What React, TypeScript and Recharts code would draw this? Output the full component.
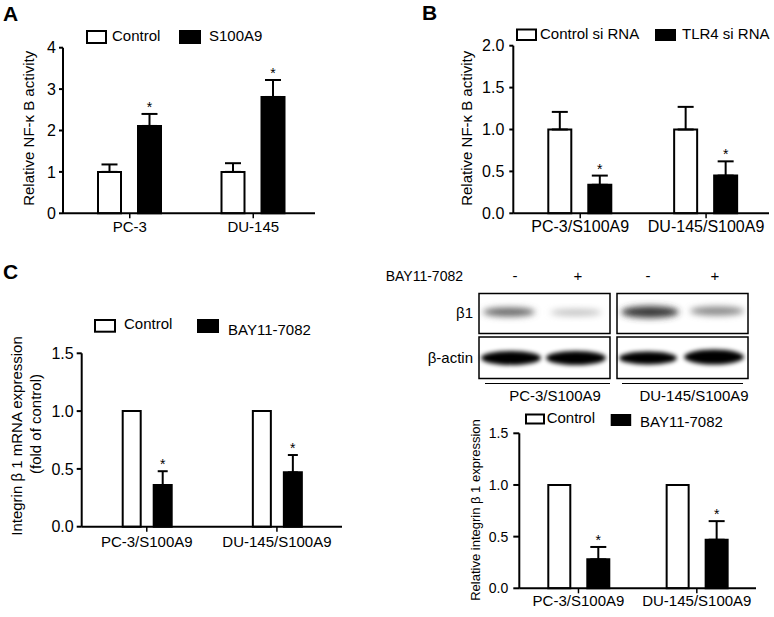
import React from 'react';
import { BarChart, Bar, XAxis, YAxis, ErrorBar, Legend, LabelList } from 'recharts';

const FONT = '"Liberation Sans", Arial, Helvetica, sans-serif';

// ---- Panel A ----
const catsA = ['PC-3', 'DU-145'];
const controlA = [1.0, 1.0];
const controlErrA = [0.18, 0.21];
const s100a9A = [2.11, 2.81];
const s100a9ErrA = [0.29, 0.41];
const ticksA = [0, 1, 2, 3, 4];

// ---- Panel B ----
const catsB = ['PC-3/S100A9', 'DU-145/S100A9'];
const controlSiB = [1.0, 1.0];
const controlSiErrB = [0.21, 0.27];
const tlr4SiB = [0.34, 0.45];
const tlr4SiErrB = [0.11, 0.17];
const ticksB = [0, 0.5, 1.0, 1.5, 2.0];

// ---- Panel C (mRNA) ----
const catsC = ['PC-3/S100A9', 'DU-145/S100A9'];
const controlC = [1.0, 1.0];
const bayC = [0.36, 0.47];
const bayErrC = [0.12, 0.15];
const ticksC = [0, 0.5, 1.0, 1.5];

// ---- Panel C (western quantification) ----
const catsD = ['PC-3/S100A9', 'DU-145/S100A9'];
const controlD = [1.0, 1.0];
const bayD = [0.28, 0.47];
const bayErrD = [0.12, 0.18];
const ticksD = [0, 0.5, 1.0, 1.5];

const dataA = catsA.map((name, i) => ({
  name, ctrl: controlA[i], ctrlErr: [0, controlErrA[i]], trt: s100a9A[i], trtErr: [0, s100a9ErrA[i]],
}));
const dataB = catsB.map((name, i) => ({
  name, ctrl: controlSiB[i], ctrlErr: [0, controlSiErrB[i]], trt: tlr4SiB[i], trtErr: [0, tlr4SiErrB[i]],
}));
const dataC = catsC.map((name, i) => ({
  name, ctrl: controlC[i], trt: bayC[i], trtErr: [0, bayErrC[i]],
}));
const dataD = catsD.map((name, i) => ({
  name, ctrl: controlD[i], trt: bayD[i], trtErr: [0, bayErrD[i]],
}));

type LegendItem = { label: string; fill: string; box: number[]; text: number[] };

const makeLegend = (items: LegendItem[], ox: number, oy: number, w: number, h: number, font: number) => () => (
  <svg width={w} height={h} style={{ display: 'block', overflow: 'visible' }}>
    {items.map((it) => (
      <g key={it.label}>
        <rect x={it.box[0] - ox} y={it.box[1] - oy} width={it.box[2]} height={it.box[3]} fill={it.fill} stroke="#000" strokeWidth={2} />
        <text x={it.text[0] - ox} y={it.text[1] - oy} fontSize={font} fontFamily={FONT} fill="#000">{it.label}</text>
      </g>
    ))}
  </svg>
);

const starContent = (errs: number[], font: number) => (p: any) => {
  const { x, y, width, height, value, index } = p;
  if (value == null || !height) return null;
  const per = Number(height) / Number(value);
  const capY = Number(y) - errs[index] * per;
  return (
    <text x={Number(x) + Number(width) / 2} y={capY - 2} textAnchor="middle" fontSize={font} fontFamily={FONT} fill="#000">*</text>
  );
};

interface PanelProps {
  left: number; top: number; width: number; height: number;
  margin: { top: number; right: number; bottom: number; left: number };
  yAxisWidth: number; xAxisHeight: number;
  data: any[]; ticks: number[]; decimals: number;
  yTickFont: number; xTickFont: number;
  yTickSize: number; yTickMargin: number; xTickMargin: number;
  padLeft: number;
  barSize: number; barGap: number; capW: number;
  ctrlErr: boolean; trtErrs: number[];
  legendItems: LegendItem[]; legendBox: number[]; legendFont: number;
  ctrlName: string; trtName: string;
}

const Panel = (p: PanelProps) => {
  const axisStyle = { stroke: '#000', strokeWidth: 2 };
  const [lx, ly, lw, lh] = p.legendBox;
  return (
    <div style={{ position: 'absolute', left: p.left, top: p.top, width: p.width, height: p.height }}>
      <BarChart
        width={p.width}
        height={p.height}
        data={p.data}
        margin={p.margin}
        barSize={p.barSize}
        barGap={p.barGap}
      >
        <XAxis
          dataKey="name"
          interval={0}
          height={p.xAxisHeight}
          padding={{ left: p.padLeft, right: 0 }}
          axisLine={axisStyle}
          tickLine={{ stroke: '#000', strokeWidth: 1.5 }}
          tickSize={5}
          tickMargin={p.xTickMargin}
          tick={{ fill: '#000', fontSize: p.xTickFont, fontFamily: FONT }}
        />
        <YAxis
          width={p.yAxisWidth}
          domain={[p.ticks[0], p.ticks[p.ticks.length - 1]]}
          ticks={p.ticks}
          interval={0}
          axisLine={axisStyle}
          tickLine={{ stroke: '#000', strokeWidth: 2 }}
          tickSize={p.yTickSize}
          tickMargin={p.yTickMargin}
          tickFormatter={(v: number) => v.toFixed(p.decimals)}
          tick={{ fill: '#000', fontSize: p.yTickFont, fontFamily: FONT }}
        />
        <Legend
          layout="vertical"
          align="center"
          verticalAlign="middle"
          wrapperStyle={{ left: lx - p.left, top: ly - p.top, width: lw, height: lh }}
          content={makeLegend(p.legendItems, lx, ly, lw, lh, p.legendFont)}
        />
        <Bar dataKey="ctrl" name={p.ctrlName} fill="#fff" stroke="#000" strokeWidth={2} isAnimationActive={false}>
          {p.ctrlErr && (
            <ErrorBar dataKey="ctrlErr" width={p.capW} stroke="#000" strokeWidth={2} direction="y" />
          )}
        </Bar>
        <Bar dataKey="trt" name={p.trtName} fill="#000" stroke="#000" strokeWidth={2} isAnimationActive={false}>
          <ErrorBar dataKey="trtErr" width={p.capW} stroke="#000" strokeWidth={2} direction="y" />
          <LabelList dataKey="trt" content={starContent(p.trtErrs, 14)} />
        </Bar>
      </BarChart>
    </div>
  );
};

const Blot = () => (
  <g>
    <defs>
      <filter id="blur2" x="-20%" y="-80%" width="140%" height="260%">
        <feGaussianBlur stdDeviation="2.2" />
      </filter>
      <filter id="blur3" x="-20%" y="-80%" width="140%" height="260%">
        <feGaussianBlur stdDeviation="3" />
      </filter>
    </defs>
    <text x={463} y={281} fontSize={14} fontFamily={FONT} textAnchor="end" fill="#000">BAY11-7082</text>
    <text x={515} y={281} fontSize={15} fontFamily={FONT} textAnchor="middle" fill="#000">-</text>
    <text x={578} y={281} fontSize={15} fontFamily={FONT} textAnchor="middle" fill="#000">+</text>
    <text x={648} y={281} fontSize={15} fontFamily={FONT} textAnchor="middle" fill="#000">-</text>
    <text x={715} y={281} fontSize={15} fontFamily={FONT} textAnchor="middle" fill="#000">+</text>

    <rect x={479} y={293.5} width={131} height={40} fill="#fff" stroke="#000" strokeWidth={1.5} />
    <rect x={617} y={293.5} width={131} height={40} fill="#fff" stroke="#000" strokeWidth={1.5} />
    <rect x={479} y={337} width={131} height={41.5} fill="#fff" stroke="#000" strokeWidth={1.5} />
    <rect x={617} y={337} width={131} height={41.5} fill="#fff" stroke="#000" strokeWidth={1.5} />

    <ellipse cx={509} cy={312} rx={26} ry={4.5} fill="#6a6a6a" filter="url(#blur3)" />
    <ellipse cx={576} cy={312.5} rx={26} ry={3.5} fill="#c4c4c4" filter="url(#blur3)" />
    <ellipse cx={650} cy={312} rx={29} ry={6} fill="#3a3a3a" filter="url(#blur3)" />
    <ellipse cx={717} cy={311} rx={27} ry={4.5} fill="#8a8a8a" filter="url(#blur3)" />

    <ellipse cx={511} cy={358} rx={30} ry={7} fill="#000" filter="url(#blur2)" />
    <ellipse cx={576} cy={358} rx={30} ry={7} fill="#000" filter="url(#blur2)" />
    <ellipse cx={648} cy={358} rx={29} ry={6.5} fill="#000" filter="url(#blur2)" />
    <ellipse cx={714} cy={357} rx={30} ry={7.5} fill="#000" filter="url(#blur2)" />

    <text x={473} y={318} fontSize={15} fontFamily={FONT} textAnchor="end" fill="#000">β1</text>
    <text x={473} y={363} fontSize={15} fontFamily={FONT} textAnchor="end" fill="#000">β-actin</text>

    <line x1={485} y1={383.5} x2={610} y2={383.5} stroke="#000" strokeWidth={1} />
    <line x1={622} y1={383.5} x2={743} y2={383.5} stroke="#000" strokeWidth={1} />
    <text x={555} y={401} fontSize={15} fontFamily={FONT} textAnchor="middle" fill="#000">PC-3/S100A9</text>
    <text x={694} y={401} fontSize={15} fontFamily={FONT} textAnchor="middle" fill="#000">DU-145/S100A9</text>
  </g>
);

const VText = ({ cx, cy, size, children }: { cx: number; cy: number; size: number; children: React.ReactNode }) => (
  <text
    transform={`translate(${cx},${cy}) rotate(-90)`}
    x={0}
    y={0}
    dy="0.35em"
    textAnchor="middle"
    fontSize={size}
    fontFamily={FONT}
    fill="#000"
  >
    {children}
  </text>
);

export default function App() {
  return (
    <div style={{ position: 'absolute', left: 0, top: 0, width: 774, height: 617, background: '#fff', overflow: 'hidden' }}>
      <Panel
        left={0} top={0} width={330} height={250}
        margin={{ top: 47.7, right: 15, bottom: 6.7, left: 0 }}
        yAxisWidth={63} xAxisHeight={30}
        data={dataA} ticks={ticksA} decimals={0}
        yTickFont={16} xTickFont={15}
        yTickSize={4} yTickMargin={3} xTickMargin={3}
        padLeft={5}
        barSize={23} barGap={17} capW={8}
        ctrlErr={true} trtErrs={s100a9ErrA}
        ctrlName="Control" trtName="S100A9"
        legendBox={[80, 25, 200, 22]} legendFont={15}
        legendItems={[
          { label: 'Control', fill: '#fff', box: [87, 31, 19, 12], text: [112, 40.7] },
          { label: 'S100A9', fill: '#000', box: [180, 31, 20, 12], text: [209, 40.7] },
        ]}
      />
      <Panel
        left={390} top={0} width={384} height={250}
        margin={{ top: 45.7, right: 5, bottom: 6.7, left: 0 }}
        yAxisWidth={123.3} xAxisHeight={30}
        data={dataB} ticks={ticksB} decimals={1}
        yTickFont={16} xTickFont={16}
        yTickSize={4} yTickMargin={5} xTickMargin={2}
        padLeft={4}
        barSize={23} barGap={17} capW={8}
        ctrlErr={true} trtErrs={tlr4SiErrB}
        ctrlName="Control si RNA" trtName="TLR4 si RNA"
        legendBox={[510, 24, 264, 20]} legendFont={15}
        legendItems={[
          { label: 'Control si RNA', fill: '#fff', box: [517, 29.5, 19, 10.5], text: [540, 39.3] },
          { label: 'TLR4 si RNA', fill: '#000', box: [656, 30, 19, 10], text: [682, 39.3] },
        ]}
      />
      <Panel
        left={0} top={300} width={360} height={260}
        margin={{ top: 53.3, right: 18, bottom: 3.3, left: 0 }}
        yAxisWidth={81.7} xAxisHeight={30}
        data={dataC} ticks={ticksC} decimals={1}
        yTickFont={16} xTickFont={15}
        yTickSize={5} yTickMargin={3} xTickMargin={5}
        padLeft={0}
        barSize={18} barGap={13} capW={5}
        ctrlErr={false} trtErrs={bayErrC}
        ctrlName="Control" trtName="BAY11-7082"
        legendBox={[88, 312, 230, 28]} legendFont={15}
        legendItems={[
          { label: 'Control', fill: '#fff', box: [95, 320, 20, 11.7], text: [124, 329.3] },
          { label: 'BAY11-7082', fill: '#000', box: [198, 320, 20, 12], text: [228, 335] },
        ]}
      />
      <Panel
        left={380} top={400} width={394} height={217}
        margin={{ top: 33.3, right: 18, bottom: 0, left: 0 }}
        yAxisWidth={139.3} xAxisHeight={28.7}
        data={dataD} ticks={ticksD} decimals={1}
        yTickFont={14} xTickFont={15}
        yTickSize={6} yTickMargin={5} xTickMargin={2}
        padLeft={0}
        barSize={22} barGap={17} capW={8}
        ctrlErr={false} trtErrs={bayErrD}
        ctrlName="Control" trtName="BAY11-7082"
        legendBox={[520, 408, 250, 24]} legendFont={15}
        legendItems={[
          { label: 'Control', fill: '#fff', box: [526, 414.5, 18, 9], text: [546.7, 423.3] },
          { label: 'BAY11-7082', fill: '#000', box: [611.7, 415, 18.5, 10], text: [640, 426.7] },
        ]}
      />
      <svg
        width={774}
        height={617}
        style={{ position: 'absolute', left: 0, top: 0, pointerEvents: 'none' }}
      >
        <text x={3} y={21} fontSize={21} fontWeight="bold" fontFamily={FONT} fill="#000">A</text>
        <text x={422} y={20} fontSize={21} fontWeight="bold" fontFamily={FONT} fill="#000">B</text>
        <text x={3} y={279} fontSize={21} fontWeight="bold" fontFamily={FONT} fill="#000">C</text>

        <VText cx={29} cy={128.3} size={15}>Relative NF-κ B activity</VText>
        <VText cx={467} cy={128.3} size={15}>Relative NF-κ B activity</VText>
        <VText cx={17} cy={436} size={15}>Integrin β 1 mRNA expression</VText>
        <VText cx={36} cy={424} size={15}>(fold of control)</VText>
        <VText cx={475} cy={510} size={13}>Relative integrin β 1 expression</VText>

        <Blot />
      </svg>
    </div>
  );
}
